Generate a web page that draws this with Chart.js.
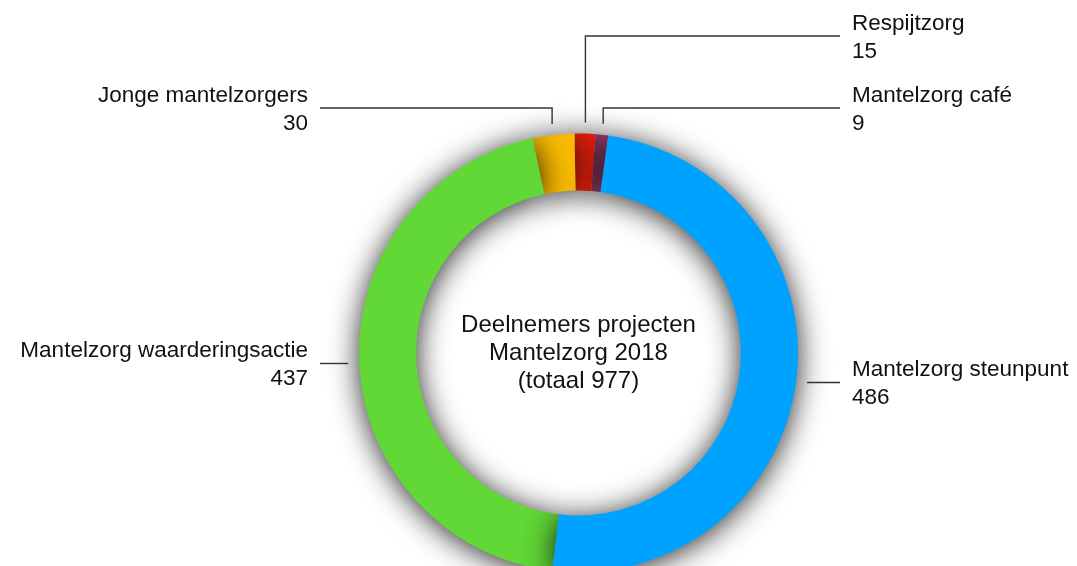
<!DOCTYPE html>
<html>
<head>
<meta charset="utf-8">
<script src="https://cdn.jsdelivr.net/npm/chart.js@4"></script>
<style>
    html, body { margin: 0; padding: 0; background: #fff; width: 1077px; height: 566px; overflow: hidden; }
    #wrap { position: absolute; left: 0; top: 0; width: 1077px; height: 590px; }
</style>
</head>
<body>
<div id="wrap"><canvas id="projectChart"></canvas></div>
<script>
// Deelnemers projecten Mantelzorg 2018
const categories = ['Mantelzorg steunpunt', 'Mantelzorg waarderingsactie', 'Jonge mantelzorgers', 'Respijtzorg', 'Mantelzorg café'];
const participants = [486, 437, 30, 15, 9];
const sliceColors = ['#00a2ff', '#61d836', '#f8ba00', '#ee220c', '#a8447a'];
const centerTitle = ['Deelnemers projecten', 'Mantelzorg 2018', '(totaal 977)'];

const FONT = '"Liberation Sans", Arial, Helvetica, sans-serif';

// Draw slices in reverse order with a soft shadow, so each slice darkens its neighbour
const ringShadow = {
    id: 'ringShadow',
    beforeDatasetDraw(chart, args) {
        const ctx = chart.ctx;
        const arcs = args.meta.data;
        ctx.save();
        ctx.shadowColor = 'rgba(0, 0, 0, 0.85)';
        ctx.shadowBlur = 30;
        ctx.shadowOffsetY = 3;
        for (let i = arcs.length - 1; i >= 0; i--) arcs[i].draw(ctx, chart.chartArea);
        ctx.restore();
        return false;
    }
};

// Leader lines + labels
const sliceLabels = {
    id: 'sliceLabels',
    afterDatasetsDraw(chart, args, opts) {
        const ctx = chart.ctx;
        const arcs = chart.getDatasetMeta(0).data;
        ctx.save();
        ctx.strokeStyle = '#333';
        ctx.lineWidth = 1.4;
        ctx.fillStyle = '#111';
        ctx.font = '22.5px ' + FONT;
        arcs.forEach((arc, i) => {
            const { x, y, startAngle, endAngle, outerRadius } = arc.getProps(['x', 'y', 'startAngle', 'endAngle', 'outerRadius']);
            const mid = (startAngle + endAngle) / 2;
            const px = x + Math.cos(mid) * (outerRadius + 11);
            const py = y + Math.sin(mid) * (outerRadius + 11);
            const right = Math.cos(mid) >= 0;
            const endX = right ? opts.rightX : opts.leftX;
            const ly = opts.elbowY[i] == null ? py : opts.elbowY[i];

            ctx.beginPath();
            ctx.moveTo(px, py);
            if (opts.elbowY[i] != null) ctx.lineTo(px, ly);
            ctx.lineTo(endX, ly);
            ctx.stroke();

            ctx.textAlign = right ? 'left' : 'right';
            const tx = right ? endX + 12 : endX - 12;
            ctx.fillText(categories[i], tx, ly - 6);
            ctx.fillText(String(participants[i]), tx, ly + 22);
        });
        ctx.restore();
    },
    afterDraw(chart) {
        const ctx = chart.ctx;
        const arc = chart.getDatasetMeta(0).data[0];
        ctx.save();
        ctx.fillStyle = '#111';
        ctx.font = '24px ' + FONT;
        ctx.textAlign = 'center';
        centerTitle.forEach((line, i) => {
            ctx.fillText(line, arc.x, arc.y - 21 + i * 28);
        });
        ctx.restore();
    }
};

new Chart(document.getElementById('projectChart'), {
    type: 'doughnut',
    data: {
        labels: categories,
        datasets: [{
            data: participants,
            backgroundColor: sliceColors,
            borderWidth: 0,
            hoverOffset: 0,
            clip: false
        }]
    },
    options: {
        responsive: true,
        maintainAspectRatio: false,
        animation: false,
        rotation: 7.8,
        cutout: '74%',
        layout: { padding: { top: 133.5, left: 359, right: 279, bottom: 17.5 } },
        plugins: {
            legend: { display: false },
            tooltip: { enabled: false },
            sliceLabels: { leftX: 320, rightX: 840, elbowY: [null, null, 108, 36, 108] }
        }
    },
    plugins: [ringShadow, sliceLabels]
});
</script>
</body>
</html>
